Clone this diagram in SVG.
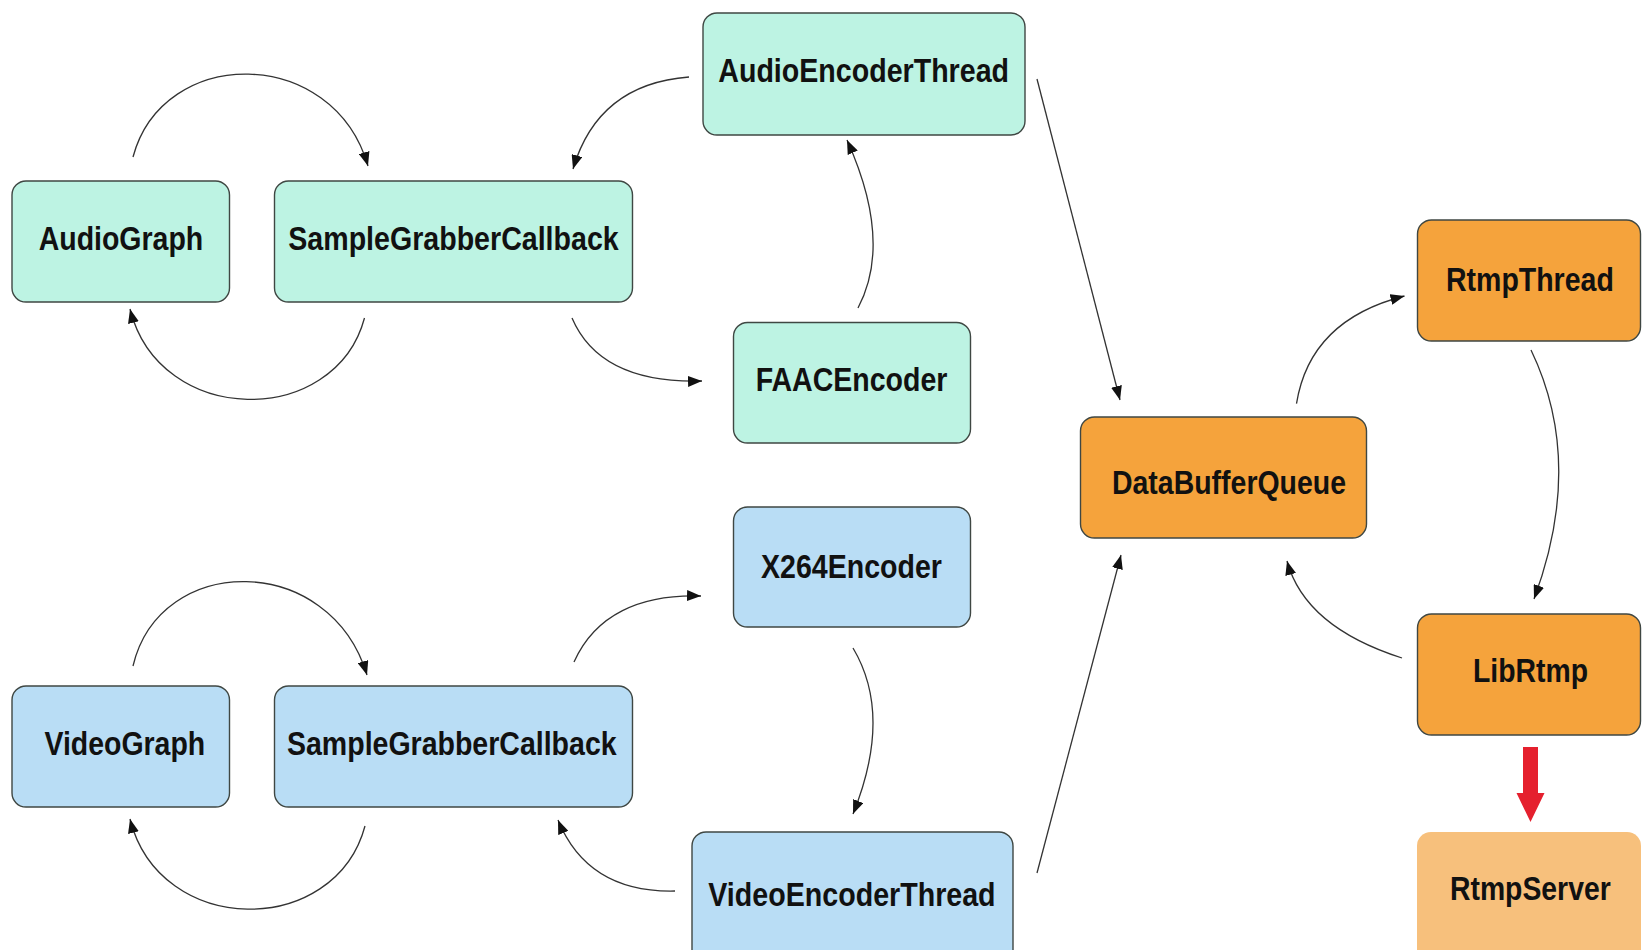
<svg xmlns="http://www.w3.org/2000/svg" width="1642" height="950" viewBox="0 0 1642 950">
<style>
.box{stroke:#3f4743;stroke-width:1.4}
.audio{fill:#bdf3e3}
.video{fill:#b9ddf5}
.core{fill:#f5a33c}
.server{fill:#f7c07c}
.lbl{font-family:"Liberation Sans",Arial,sans-serif;font-weight:bold;font-size:34px;fill:#111}
.edge{fill:none;stroke:#333;stroke-width:1.3;marker-end:url(#ah)}
</style>
<defs>
<marker id="ah" markerUnits="userSpaceOnUse" markerWidth="15" markerHeight="11" refX="14" refY="5.5" orient="auto">
<path d="M0,0 L14,5.5 L0,11 z" fill="#111"/>
</marker>
</defs>
<rect width="1642" height="950" fill="#fff"/>

<g id="connectors">
<path class="edge" d="M133,157 C163,45 333,45 368,166"/>
<path class="edge" d="M364.5,318 C335,428 160,428 130,309"/>
<path class="edge" d="M689,77 Q598,84 573,169"/>
<path class="edge" d="M572,318 C590,360 630,383 702,381"/>
<path class="edge" d="M858,308 Q893,242 847,140"/>
<path class="edge" d="M1037,79 L1120,400"/>
<path class="edge" d="M1296.5,403.6 Q1310,320 1404.5,296"/>
<path class="edge" d="M1531,350 Q1585,462 1534,599"/>
<path class="edge" d="M1402,658 Q1305,627 1287,561"/>
<path class="edge" d="M1037,873 L1121,555"/>
<path class="edge" d="M133,666 C160,552 330,552 367,675"/>
<path class="edge" d="M365,826 C335,938 160,938 130,819"/>
<path class="edge" d="M574,662 C595,615 640,594 701,596"/>
<path class="edge" d="M853,648 Q893,715 853,814"/>
<path class="edge" d="M675,891 Q588,893 558,820"/>
<polygon points="1523,747 1538,747 1538,793 1544.5,793 1530.5,822 1516.5,793 1523,793" fill="#e5202e"/>
</g>

<g id="AudioGraph"><rect class="box audio" x="12" y="181" width="217.5" height="121" rx="14"/><text class="lbl" x="38.7" y="250" textLength="164.5" lengthAdjust="spacingAndGlyphs">AudioGraph</text></g>
<g id="SampleGrabberCallbackAudio"><rect class="box audio" x="274.5" y="181" width="358" height="121" rx="14"/><text class="lbl" x="288.3" y="250" textLength="330.4" lengthAdjust="spacingAndGlyphs">SampleGrabberCallback</text></g>
<g id="AudioEncoderThread"><rect class="box audio" x="703" y="13" width="322" height="122" rx="14"/><text class="lbl" x="718.3" y="81.7" textLength="290.7" lengthAdjust="spacingAndGlyphs">AudioEncoderThread</text></g>
<g id="FAACEncoder"><rect class="box audio" x="733.5" y="322.5" width="237" height="120.5" rx="14"/><text class="lbl" x="755.7" y="390.7" textLength="191.7" lengthAdjust="spacingAndGlyphs">FAACEncoder</text></g>
<g id="DataBufferQueue"><rect class="box core" x="1080.5" y="417" width="286" height="121" rx="14"/><text class="lbl" x="1112" y="493.6" textLength="234" lengthAdjust="spacingAndGlyphs">DataBufferQueue</text></g>
<g id="RtmpThread"><rect class="box core" x="1417.5" y="220" width="223" height="121" rx="14"/><text class="lbl" x="1446" y="291" textLength="167.8" lengthAdjust="spacingAndGlyphs">RtmpThread</text></g>
<g id="LibRtmp"><rect class="box core" x="1417.5" y="614" width="223" height="121" rx="14"/><text class="lbl" x="1473" y="682" textLength="115" lengthAdjust="spacingAndGlyphs">LibRtmp</text></g>
<g id="RtmpServer"><rect class="server" x="1417" y="832" width="224" height="135" rx="14"/><text class="lbl" x="1450" y="900" textLength="160.7" lengthAdjust="spacingAndGlyphs">RtmpServer</text></g>
<g id="X264Encoder"><rect class="box video" x="733.5" y="507" width="237" height="120" rx="14"/><text class="lbl" x="761" y="578.3" textLength="181" lengthAdjust="spacingAndGlyphs">X264Encoder</text></g>
<g id="VideoGraph"><rect class="box video" x="12" y="686" width="217.5" height="121" rx="14"/><text class="lbl" x="44.5" y="755" textLength="160.7" lengthAdjust="spacingAndGlyphs">VideoGraph</text></g>
<g id="SampleGrabberCallbackVideo"><rect class="box video" x="274.5" y="686" width="358" height="121" rx="14"/><text class="lbl" x="287" y="755" textLength="329.6" lengthAdjust="spacingAndGlyphs">SampleGrabberCallback</text></g>
<g id="VideoEncoderThread"><rect class="box video" x="692" y="832" width="321" height="135" rx="14"/><text class="lbl" x="708.3" y="905.7" textLength="287.3" lengthAdjust="spacingAndGlyphs">VideoEncoderThread</text></g>
</svg>
